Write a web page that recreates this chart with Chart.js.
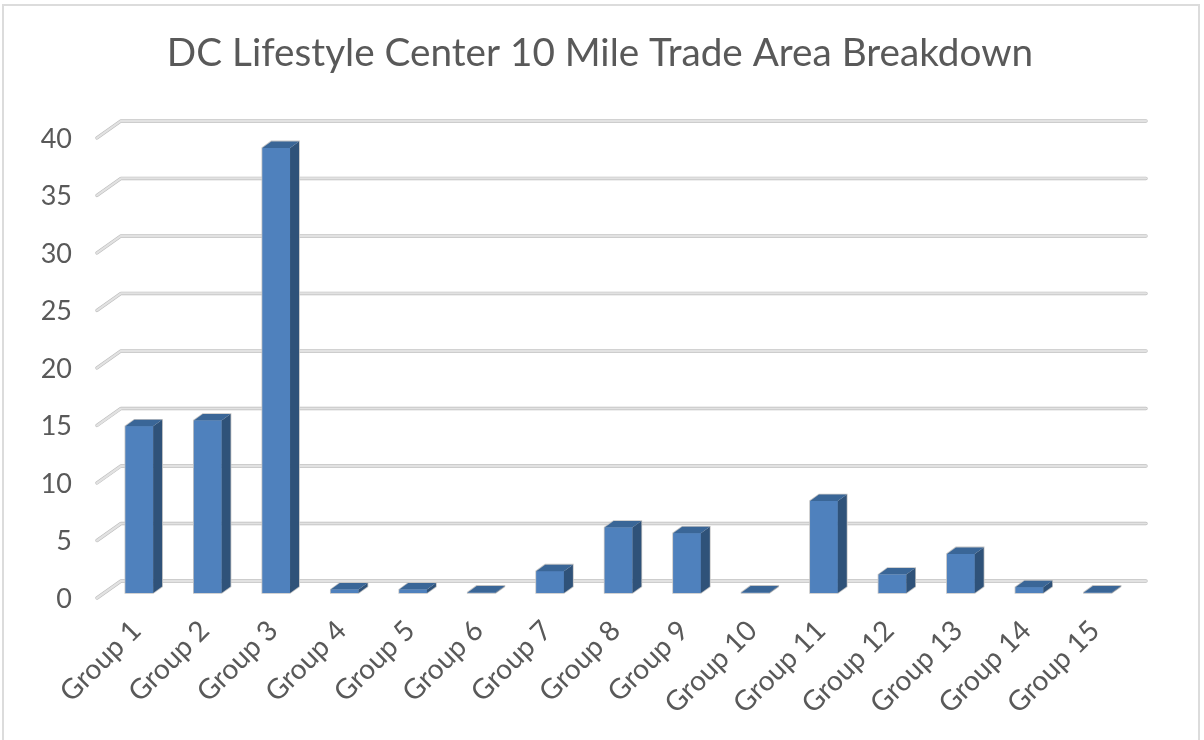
<!DOCTYPE html>
<html>
<head>
<meta charset="utf-8">
<script src="https://cdn.jsdelivr.net/npm/chart.js@4"></script>
<style>
html,body{margin:0;padding:0;background:#fff;overflow:hidden}
#wrap{position:absolute;left:0;top:0;width:1204px;height:740px}
#frame{position:absolute;left:2px;top:4px;width:1194px;height:740px;border:2px solid #dcdcdc;box-sizing:content-box;pointer-events:none}
canvas{filter:blur(0.35px)}
</style>
</head>
<body>
<div id="wrap"><canvas id="c" width="1204" height="740"></canvas><div id="frame"></div></div>
<script>
const categories = ["Group 1","Group 2","Group 3","Group 4","Group 5","Group 6","Group 7","Group 8","Group 9","Group 10","Group 11","Group 12","Group 13","Group 14","Group 15"];
const values = [14.5,15,38.7,0.3,0.3,0.05,1.9,5.7,5.2,0.05,8,1.6,3.4,0.5,0.05];
const yTicks = [0,5,10,15,20,25,30,35,40];
const titleText = "DC Lifestyle Center 10 Mile Trade Area Breakdown";

const depth3d = {
  id:'depth3d',
  beforeDatasetsDraw(chart){
    const c = chart.ctx, y = chart.scales.y;
    c.save();
    c.lineJoin='round'; c.lineCap='round';
    y.ticks.forEach((t,i)=>{
      const p = y.getPixelForTick(i);
      c.beginPath();
      c.moveTo(97,p+5); c.lineTo(121,p-12); c.lineTo(1146,p-12);
      c.strokeStyle='#bdbdbd'; c.lineWidth=3.4; c.stroke();
      c.strokeStyle='#e2e2e2'; c.lineWidth=2.2; c.stroke();
    });
    c.restore();
  },
  afterDatasetsDraw(chart){
    const c = chart.ctx, dx=9, dy=6.5;
    c.save();
    chart.getDatasetMeta(0).data.forEach(b=>{
      const l=b.x-b.width/2, r=b.x+b.width/2, t=b.y, bs=b.base;
      const poly=(pts,fill)=>{c.beginPath();pts.forEach((q,i)=>i?c.lineTo(q[0],q[1]):c.moveTo(q[0],q[1]));c.closePath();c.fillStyle=fill;c.fill();};
      c.beginPath();
      c.moveTo(l,bs);c.lineTo(l,t);c.lineTo(l+dx,t-dy);c.lineTo(r+dx,t-dy);c.lineTo(r+dx,bs-dy);c.lineTo(r,bs);c.closePath();
      c.strokeStyle='#c4c4c4';c.lineWidth=1.6;c.stroke();
      poly([[l,bs],[r,bs],[r,t],[l,t]],'#4f81bd');
      poly([[l,t],[l+dx,t-dy],[r+dx,t-dy],[r,t]],'#3a6697');
      poly([[r,t],[r+dx,t-dy],[r+dx,bs-dy],[r,bs]],'#2f5279');
    });
    c.restore();
  }
};

new Chart(document.getElementById('c'),{
  type:'bar',
  data:{labels:categories,datasets:[{data:values,yAxisID:'y',backgroundColor:'#4f81bd',borderWidth:0,barPercentage:0.405,categoryPercentage:1}]},
  plugins:[depth3d],
  options:{
    responsive:false,animation:false,
    layout:{padding:{left:0,right:4,top:0,bottom:0},autoPadding:false},
    plugins:{
      legend:{display:false},tooltip:{enabled:false},
      title:{display:true,text:titleText,color:'#595959',font:{family:'Lato',size:38.7,weight:'normal'},padding:{top:30,bottom:56.5},position:'top',align:'center',fullSize:true}
    },
    scales:{
      x:{
        grid:{display:false},border:{display:false},
        ticks:{color:'#595959',font:{family:'Lato',size:28},minRotation:45,maxRotation:45,padding:13,labelOffset:-3,autoSkip:false},
        afterFit(s){s.height=147;}
      },
      y:{
        min:0,max:40,
        grid:{display:false},border:{display:false},
        afterBuildTicks(s){s.ticks=yTicks.map(v=>({value:v}));},
        ticks:{color:'#595959',font:{family:'Lato',size:27},padding:25,labelOffset:6},
        afterFit(s){s.width=105;}
      },
      spacer:{
        position:'right',display:true,
        grid:{display:false},border:{display:false},
        ticks:{display:false},
        afterFit(s){s.width=68;}
      }
    }
  }
});
</script>
</body>
</html>
